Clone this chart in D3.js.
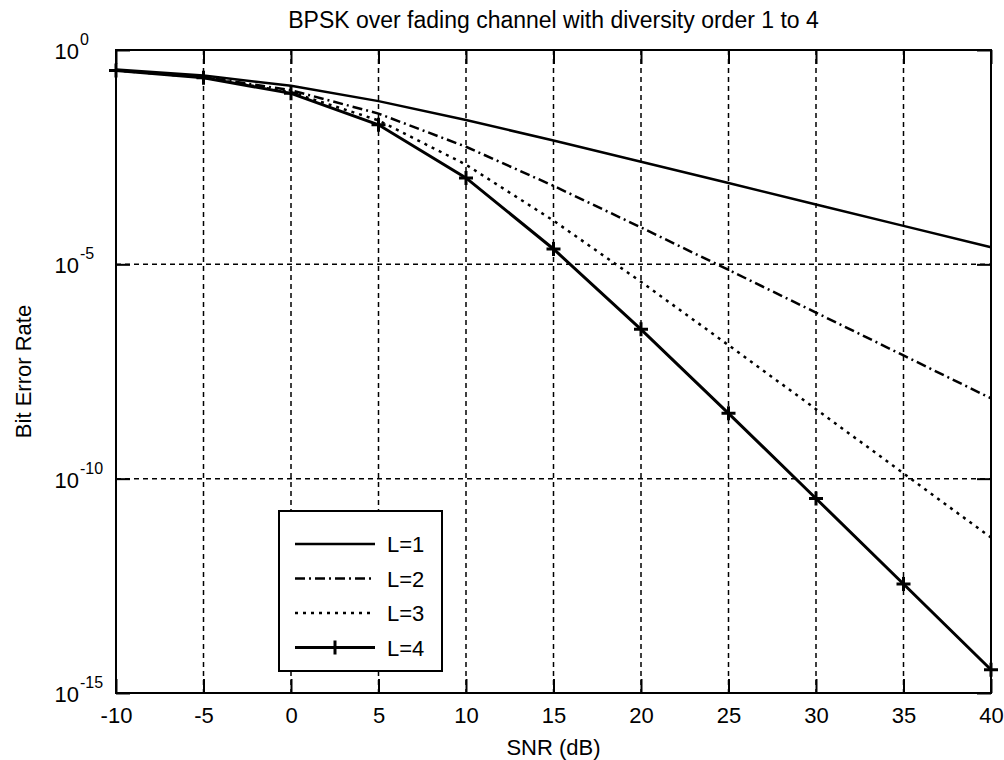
<!DOCTYPE html>
<html>
<head>
<meta charset="utf-8">
<script src="https://cdn.jsdelivr.net/npm/d3@7"></script>
<style>
body { margin: 0; background: #fff; }
text { font-family: "Liberation Sans", Arial, sans-serif; fill: #000; }
</style>
</head>
<body>
<div id="chart-area"></div>
<script>

// data
var snr = [-10, -5, 0, 5, 10, 15, 20, 25, 30, 35, 40];
var berL1 = [0.3492, 0.2549, 0.1464, 0.06418, 0.02327, 0.007723, 0.002481, 7.887e-4, 2.498e-4, 7.904e-5, 2.5e-5];
var berL2 = [0.3389, 0.2355, 0.1151, 0.03286, 0.005528, 6.771e-4, 7.256e-5, 7.421e-6, 7.475e-7, 7.492e-8, 7.497e-9];
var berL3 = [0.3352, 0.2284, 0.1035, 0.02280, 0.002114, 1.047e-4, 3.904e-6, 1.301e-7, 4.186e-9, 1.330e-10, 4.215e-12];
var berL4 = [0.3333, 0.2247, 0.09751, 0.01805, 0.001039, 2.278e-5, 3.039e-7, 3.345e-9, 3.450e-11, 3.484e-13, 3.495e-15];

var xTicks = [-10, -5, 0, 5, 10, 15, 20, 25, 30, 35, 40];
var yTicks = [1, 1e-5, 1e-10, 1e-15];
var yTickExp = ["0", "-5", "-10", "-15"];
var seriesNames = ["L=1", "L=2", "L=3", "L=4"];

var pLeft = 116, pRight = 991, pTop = 50, pBottom = 693;

var svg = d3.select("#chart-area").append("svg")
	.attr("width", 1004)
	.attr("height", 760);

var x = d3.scaleLinear().domain([-10, 40]).range([pLeft, pRight]);
var y = d3.scaleLog().domain([1e-15, 1]).range([pBottom, pTop]);

// grid
svg.append("g").selectAll("line")
	.data(xTicks.slice(1, -1))
	.enter().append("line")
	.attr("x1", function(d) { return x(d); })
	.attr("x2", function(d) { return x(d); })
	.attr("y1", pTop)
	.attr("y2", pBottom)
	.attr("stroke", "#000")
	.attr("stroke-width", 1.5)
	.attr("stroke-dasharray", "5,4");

svg.append("g").selectAll("line")
	.data(yTicks.slice(1, -1))
	.enter().append("line")
	.attr("x1", pLeft)
	.attr("x2", pRight)
	.attr("y1", function(d) { return y(d); })
	.attr("y2", function(d) { return y(d); })
	.attr("stroke", "#000")
	.attr("stroke-width", 1.5)
	.attr("stroke-dasharray", "5,4");

// axes (ticks pointing inside)
var xAxisB = svg.append("g")
	.attr("transform", "translate(0," + pBottom + ")")
	.call(d3.axisBottom(x).tickValues(xTicks).tickSizeInner(-14).tickSizeOuter(0).tickPadding(14)
		.tickFormat(function(d) { return d; }));
var xAxisT = svg.append("g")
	.attr("transform", "translate(0," + pTop + ")")
	.call(d3.axisTop(x).tickValues(xTicks).tickSizeInner(-14).tickSizeOuter(0).tickFormat(""));
var yAxisL = svg.append("g")
	.attr("transform", "translate(" + pLeft + ",0)")
	.call(d3.axisLeft(y).tickValues(yTicks).tickSizeInner(-14).tickSizeOuter(0).tickFormat(""));
var yAxisR = svg.append("g")
	.attr("transform", "translate(" + pRight + ",0)")
	.call(d3.axisRight(y).tickValues(yTicks).tickSizeInner(-14).tickSizeOuter(0).tickFormat(""));

svg.selectAll(".domain").remove();
svg.selectAll(".tick line").attr("stroke", "#000").attr("stroke-width", 2);
xAxisB.selectAll("text").attr("font-size", 22).attr("font-family", "Liberation Sans, Arial, sans-serif");

svg.append("rect")
	.attr("x", pLeft)
	.attr("y", pTop)
	.attr("width", pRight - pLeft)
	.attr("height", pBottom - pTop)
	.attr("fill", "none")
	.attr("stroke", "#000")
	.attr("stroke-width", 2);

// y tick labels 10^n
var yLab = svg.append("g").selectAll("g")
	.data(yTicks)
	.enter().append("g");
yLab.append("text")
	.attr("x", 79)
	.attr("y", function(d) { return y(d) + 9; })
	.attr("text-anchor", "end")
	.attr("font-size", 22)
	.text("10");
yLab.append("text")
	.attr("x", 80)
	.attr("y", function(d) { return y(d) - 5; })
	.attr("font-size", 16)
	.text(function(d, i) { return yTickExp[i]; });

// series
var line = d3.line()
	.x(function(d) { return x(d[0]); })
	.y(function(d) { return y(d[1]); });

var series = [berL1, berL2, berL3, berL4];
var dashes = [null, "10,4,2,4", "3,5", null];
var widths = [2.5, 2.5, 2.5, 3];

series.forEach(function(s, i) {
	svg.append("path")
		.datum(snr.map(function(v, j) { return [v, s[j]]; }))
		.attr("d", line)
		.attr("fill", "none")
		.attr("stroke", "#000")
		.attr("stroke-width", widths[i])
		.attr("stroke-dasharray", dashes[i]);
});

svg.append("g").selectAll("path")
	.data(snr.map(function(v, j) { return [v, berL4[j]]; }))
	.enter().append("path")
	.attr("transform", function(d) { return "translate(" + x(d[0]) + "," + y(d[1]) + ")"; })
	.attr("d", "M-7,0H7M0,-7V7")
	.attr("stroke", "#000")
	.attr("stroke-width", 3);

// title and axis labels
svg.append("text")
	.attr("x", (pLeft + pRight) / 2)
	.attr("y", 28)
	.attr("text-anchor", "middle")
	.attr("font-size", 23)
	.text("BPSK over fading channel with diversity order 1 to 4");

svg.append("text")
	.attr("x", (pLeft + pRight) / 2)
	.attr("y", 755)
	.attr("text-anchor", "middle")
	.attr("font-size", 22)
	.text("SNR (dB)");

svg.append("text")
	.attr("transform", "translate(31," + (pTop + pBottom) / 2 + ") rotate(-90)")
	.attr("text-anchor", "middle")
	.attr("font-size", 22)
	.text("Bit Error Rate");

// legend
var legend = svg.append("g");
legend.append("rect")
	.attr("x", 279)
	.attr("y", 511)
	.attr("width", 163)
	.attr("height", 160)
	.attr("fill", "#fff")
	.attr("stroke", "#000")
	.attr("stroke-width", 2);

var legRow = legend.selectAll("g.row")
	.data(seriesNames)
	.enter().append("g")
	.attr("class", "row")
	.attr("transform", function(d, i) { return "translate(0," + (544 + i * 34.5) + ")"; });

legRow.append("line")
	.attr("x1", 295)
	.attr("x2", 375)
	.attr("stroke", "#000")
	.attr("stroke-width", function(d, i) { return widths[i]; })
	.attr("stroke-dasharray", function(d, i) { return dashes[i]; });

legRow.filter(function(d, i) { return i === 3; })
	.append("path")
	.attr("transform", "translate(335,0)")
	.attr("d", "M-7,0H7M0,-7V7")
	.attr("stroke", "#000")
	.attr("stroke-width", 3);

legRow.append("text")
	.attr("x", 387)
	.attr("y", 8)
	.attr("font-size", 22)
	.text(function(d) { return d; });

</script>
</body>
</html>
